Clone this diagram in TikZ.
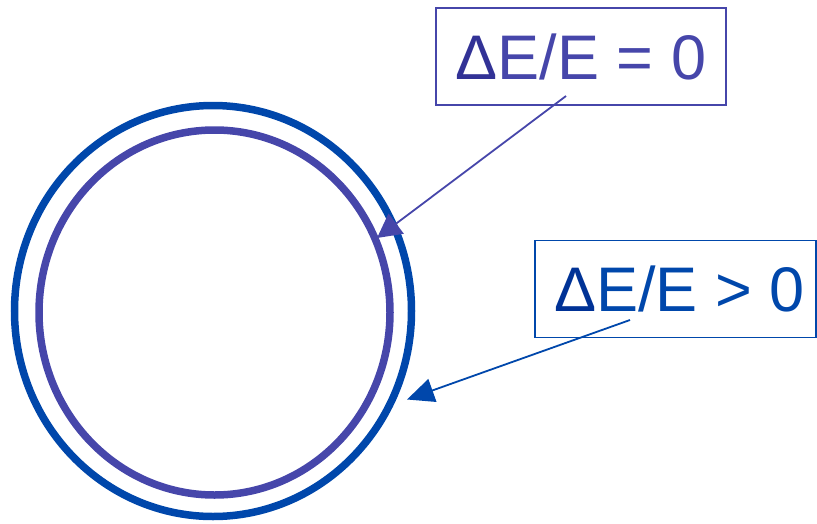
\documentclass[tikz,border=0pt]{standalone}
\usepackage{fontspec}
\setmainfont{Liberation Sans}
\usetikzlibrary{arrows.meta,positioning,shapes.geometric}
\definecolor{ringblue}{RGB}{0,71,171}
\definecolor{ringviolet}{RGB}{70,70,170}
\definecolor{deltablue}{RGB}{0,50,150}
\definecolor{deltaviolet}{RGB}{50,50,150}
\newcommand{\dE}[1]{{\color{#1}\char"0394}E/E}

\begin{document}
\begin{tikzpicture}[x=1pt,y=-1pt,
        ring/.style={ellipse,draw,line width=7.5pt,inner sep=0pt},
        label box/.style={rectangle,draw,line width=1.8pt,inner sep=0pt,
          minimum height=97pt,font=\fontsize{63}{72}\selectfont},
        pointer/.style={line width=1.8pt,-{Triangle[length=#1]}}]
        \useasboundingbox (0,0) rectangle (817,523);
        \node[ring,draw=ringblue,minimum width=397pt,minimum height=411pt] (outer) at (213,311) {};
        \node[ring,draw=ringviolet,minimum width=351pt,minimum height=365pt] (inner) at (214.5,312.5) {};
        \node[label box,draw=ringviolet,text=ringviolet,minimum width=290pt] (zero) at (581,56.5) {\dE{deltaviolet} = 0};
        \node[label box,draw=ringblue,text=ringblue,minimum width=281pt] (pos) at (675.5,289) {\hspace*{8pt}\dE{deltablue} > 0};
        \coordinate (zero tail) at (566,96);
        \coordinate (zero tip) at (377,238);
        \coordinate (pos tail) at (630,320);
        \coordinate (pos tip) at (407,399.5);
        \draw[pointer={24pt,width=25pt},ringviolet] (zero tail) -- (zero tip);
        \draw[pointer={27pt,width=24pt},ringblue] (pos tail) -- (pos tip);
      \end{tikzpicture}
\end{document}
